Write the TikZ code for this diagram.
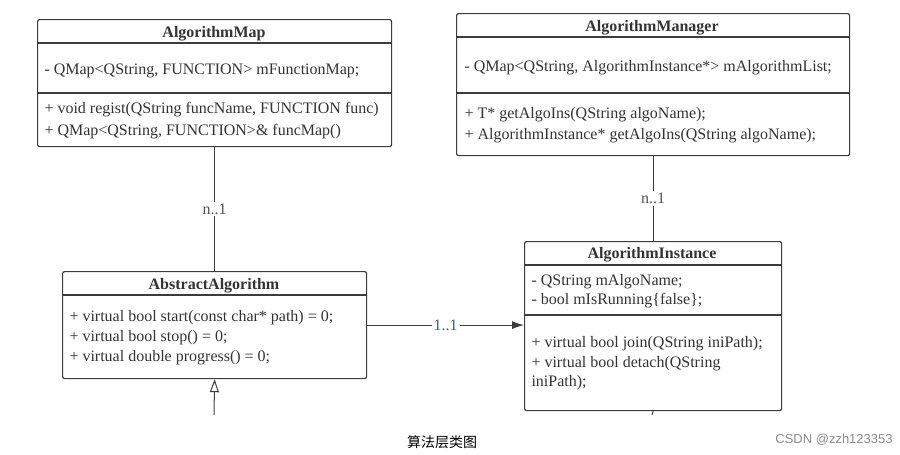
\documentclass[tikz,border=0pt]{standalone}
\usepackage{fontspec}
\setmainfont{Liberation Serif}
\newfontfamily\cjkfont{Noto Sans CJK SC}
\newfontfamily\markfont{Liberation Sans}
\usetikzlibrary{arrows.meta,positioning,calc}
\definecolor{umlline}{HTML}{3C3C3C}
\definecolor{umltext}{HTML}{333333}
\definecolor{multtext}{HTML}{555555}
\definecolor{multblue}{HTML}{3F5F8F}

\begin{document}
\begin{tikzpicture}[x=1pt, y=-1pt, line width=1pt,
	classbox/.style = {draw=umlline, line width=1.2pt, rounded corners=2pt, anchor=north west, inner sep=0pt},
	classname/.style = {font=\fontsize{16}{18}\selectfont\bfseries, text=umltext, inner sep=0pt, yshift=-2pt},
	member/.style = {anchor=west, font=\fontsize{16}{18}\selectfont, text=umltext, inner sep=0pt, yshift=-2pt},
	sep/.style = {draw=umlline, line width=1.2pt},
	mult/.style = {fill=white, font=\fontsize{16}{18}\selectfont, text=multtext, inner sep=2pt}]

	\useasboundingbox (0,0) rectangle (900,455);

	% class boxes
	\node[classbox, minimum width=354pt, minimum height=127pt] (map) at (37,19) {};
	\node[classbox, minimum width=393pt, minimum height=142pt] (manager) at (456,13) {};
	\node[classbox, minimum width=304pt, minimum height=107pt] (abstract) at (62,271) {};
	\node[classbox, minimum width=257pt, minimum height=169pt] (instance) at (524,241) {};

	% AlgorithmMap
	\node[classname] (mapname) at (214,32) {AlgorithmMap};
	\draw[sep] (map.west |- 0,43) -- (map.east |- 0,43);
	\node[member] at (44,69) {- QMap<QString, FUNCTION> mFunctionMap;};
	\draw[sep] (map.west |- 0,93) -- (map.east |- 0,93);
	\node[member] at (44,108) {+ void regist(QString funcName, FUNCTION func)};
	\node[member] at (44,130) {+ QMap<QString, FUNCTION>\& funcMap()};

	% AlgorithmManager
	\node[classname] (managername) at (652,26) {AlgorithmManager};
	\draw[sep] (manager.west |- 0,37) -- (manager.east |- 0,37);
	\node[member] at (464,66) {- QMap<QString, AlgorithmInstance*> mAlgorithmList;};
	\draw[sep] (manager.west |- 0,93) -- (manager.east |- 0,93);
	\node[member] at (464,113) {+ T* getAlgoIns(QString algoName);};
	\node[member] at (464,134) {+ AlgorithmInstance* getAlgoIns(QString algoName);};

	% AbstractAlgorithm
	\node[classname] (abstractname) at (214,284) {AbstractAlgorithm};
	\draw[sep] (abstract.west |- 0,295) -- (abstract.east |- 0,295);
	\node[member] at (69,316) {+ virtual bool start(const char* path) = 0;};
	\node[member] at (69,336) {+ virtual bool stop() = 0;};
	\node[member] at (69,356) {+ virtual double progress() = 0;};

	% AlgorithmInstance
	\node[classname] (instancename) at (652,253) {AlgorithmInstance};
	\draw[sep] (instance.west |- 0,265) -- (instance.east |- 0,265);
	\node[member] at (531,280) {- QString mAlgoName;};
	\node[member] at (531,299) {- bool mIsRunning\{false\};};
	\draw[sep] (instance.west |- 0,315) -- (instance.east |- 0,315);
	\node[member] at (531,342) {+ virtual bool join(QString iniPath);};
	\node[member] at (531,362) {+ virtual bool detach(QString};
	\node[member] at (531,381) {iniPath);};

	% relations
	\draw[umlline] (map) -- node[mult] {n..1} (abstract);
	\draw[umlline] (manager) -- node[mult] {n..1} (instance);
	\draw[umlline, -{Latex[length=12pt, width=8pt]}] (abstract.east) -- node[mult, text=multblue] {1..1} (abstract.east -| instance.west);
	\coordinate (subclass) at (214,415);
	\draw[umlline, -{Triangle[open, length=13pt, width=9pt]}] (subclass) -- (abstract.south);
	\coordinate (instancetail) at (652,415);
	\draw[umlline] (instance.south) -- (instancetail);

	% caption
	\node[font=\cjkfont\fontsize{14}{16}\selectfont, text=black] (caption) at (442,442) {算法层类图};
	\node[font=\markfont\fontsize{13}{15}\selectfont, text=black!45] (csdn) at (834,440) {CSDN @zzh123353};
\end{tikzpicture}
\end{document}
